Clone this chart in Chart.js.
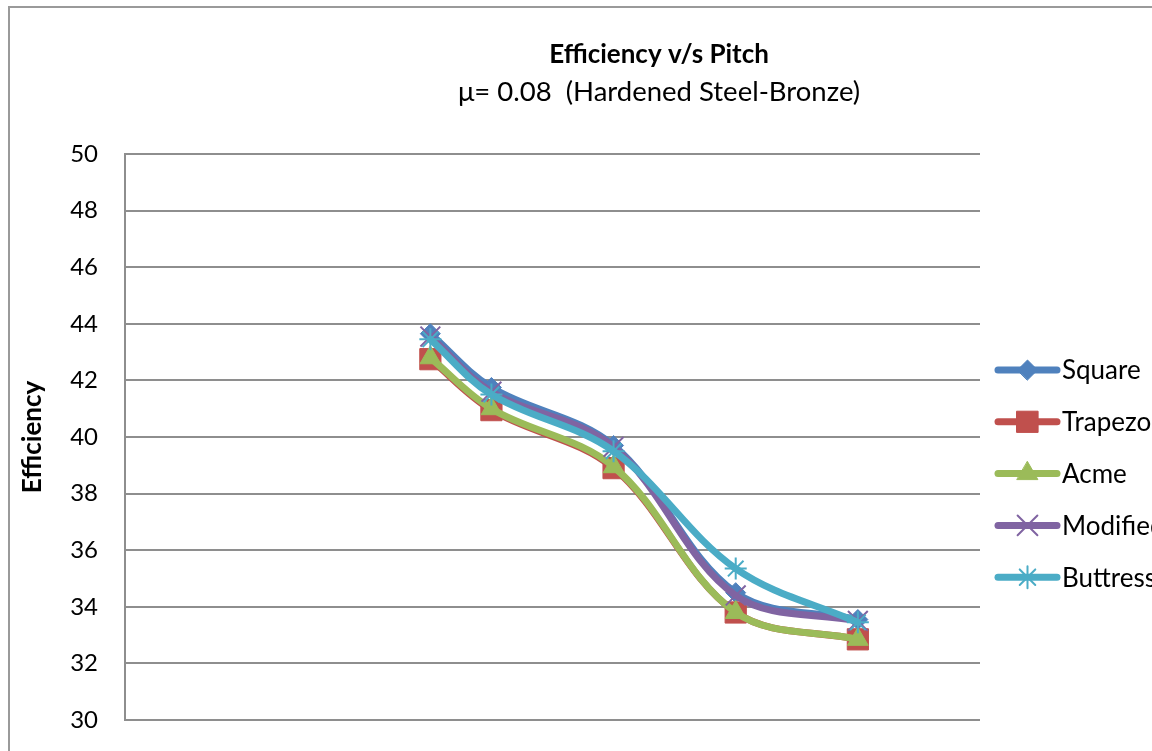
<!DOCTYPE html>
<html>
<head>
<meta charset="utf-8">
<script src="https://cdn.jsdelivr.net/npm/chart.js@4.4.1/dist/chart.umd.min.js"></script>
<style>
    html, body { margin: 0; padding: 0; background: #fff; overflow: hidden; }
    #frame {
        position: absolute;
        left: 8px;
        top: 6px;
        border: 2px solid #9a9a9a;
        width: 1298px;
        height: 790px;
    }
    #effChart { display: block; }
</style>
</head>
<body>
<div id="frame">
    <canvas id="effChart" width="1298" height="790"></canvas>
</div>
<script>
// Pitch values (x) and efficiency (%) for each thread form
const pitch = [5, 6, 8, 10, 12];
const squareEff = [43.65, 41.75, 39.7, 34.5, 33.55];
const trapezoidalEff = [42.75, 40.95, 38.9, 33.8, 32.85];
const acmeEff = [42.8, 41.0, 38.95, 33.8, 32.85];
const modifiedEff = [43.55, 41.6, 39.65, 34.4, 33.5];
const buttressEff = [43.45, 41.5, 39.5, 35.35, 33.45];
const yTicks = [30, 32, 34, 36, 38, 40, 42, 44, 46, 48, 50];

const toPoints = (ys) => ys.map((y, i) => ({ x: pitch[i], y: y }));

const FONT = 'Lato, "Open Sans", sans-serif';
Chart.defaults.font.family = FONT;
Chart.defaults.font.size = 26;
Chart.defaults.color = '#000';

// Legend on the right: line sample with marker in the middle, like the office-style charts
const sideLegend = {
    id: 'sideLegend',
    afterDraw(chart) {
        const ctx = chart.ctx;
        const area = chart.chartArea;
        const x0 = area.right + 18;
        const x1 = area.right + 77;
        const cx = (x0 + x1) / 2;
        let y = area.top + 216;
        ctx.save();
        chart.data.datasets.forEach(ds => {
            ctx.strokeStyle = ds.borderColor;
            ctx.lineWidth = ds.borderWidth;
            ctx.lineCap = 'round';
            ctx.beginPath();
            ctx.moveTo(x0, y);
            ctx.lineTo(x1, y);
            ctx.stroke();

            ctx.fillStyle = ds.pointBackgroundColor;
            ctx.strokeStyle = ds.pointBorderColor;
            ctx.lineWidth = ds.pointBorderWidth;
            Chart.helpers.drawPoint(ctx, {
                pointStyle: ds.pointStyle,
                radius: ds.pointRadius,
                borderWidth: ds.pointBorderWidth,
                rotation: 0
            }, cx, y);

            ctx.fillStyle = '#000';
            ctx.font = '26px ' + FONT;
            ctx.textAlign = 'left';
            ctx.textBaseline = 'middle';
            ctx.fillText(ds.label, x1 + 5, y + 1);
            y += 51.8;
        });
        ctx.restore();
    }
};

function series(label, data, color, style, radius, bw, order) {
    return {
        label: label,
        data: toPoints(data),
        borderColor: color,
        backgroundColor: color,
        borderWidth: 7,
        borderCapStyle: 'round',
        borderJoinStyle: 'round',
        tension: 0.35,
        pointStyle: style,
        pointRadius: radius,
        pointHoverRadius: radius,
        pointBackgroundColor: color,
        pointBorderColor: color,
        pointBorderWidth: bw,
        order: order
    };
}

const ctx = document.getElementById('effChart');
const effChart = new Chart(ctx, {
    type: 'line',
    data: {
        datasets: [
            series('Square', squareEff, '#4F81BD', 'rectRot', 10, 1, 5),
            series('Trapezoidal', trapezoidalEff, '#C0504D', 'rect', 15, 1, 4),
            series('Acme', acmeEff, '#9BBB59', 'triangle', 12, 1, 3),
            series('Modified Square', modifiedEff, '#8064A2', 'crossRot', 14, 2, 2),
            series('Buttress', buttressEff, '#4BACC6', 'star', 11, 2, 1)
        ]
    },
    options: {
        responsive: false,
        animation: false,
        devicePixelRatio: 1,
        layout: {
            padding: { top: 0, left: 0, right: 0, bottom: 78 }
        },
        plugins: {
            legend: { display: false },
            tooltip: { enabled: false },
            title: {
                display: true,
                text: 'Efficiency v/s Pitch',
                font: { size: 26, weight: 'bold' },
                padding: { top: 31.4, bottom: 0 }
            },
            subtitle: {
                display: true,
                text: 'μ= 0.08  (Hardened Steel-Bronze)',
                font: { size: 27.5, weight: 'normal' },
                color: '#000',
                padding: { top: 4.9, bottom: 45.5 }
            }
        },
        scales: {
            x: {
                type: 'linear',
                min: 0,
                max: 14,
                display: false
            },
            y: {
                position: 'left',
                min: 30,
                max: 50,
                afterBuildTicks: (axis) => {
                    axis.ticks = yTicks.map(v => ({ value: v }));
                },
                afterFit: (axis) => {
                    axis.width = 115;
                },
                ticks: {
                    padding: 27,
                    color: '#000',
                    font: { size: 24 }
                },
                grid: {
                    color: '#8e8e8e',
                    lineWidth: 2,
                    drawTicks: false
                },
                border: {
                    display: true,
                    color: '#8e8e8e',
                    width: 2
                },
                title: {
                    display: true,
                    text: 'Efficiency',
                    font: { size: 26, weight: 'bold' },
                    padding: { top: 7.4, bottom: 0 }
                }
            },
            // empty scale that keeps room for the legend on the right
            yLegend: {
                position: 'right',
                display: true,
                min: 30,
                max: 50,
                afterFit: (axis) => {
                    axis.width = 328;
                },
                ticks: { display: false },
                grid: { display: false },
                border: { display: false }
            }
        }
    },
    plugins: [sideLegend]
});
</script>
</body>
</html>
